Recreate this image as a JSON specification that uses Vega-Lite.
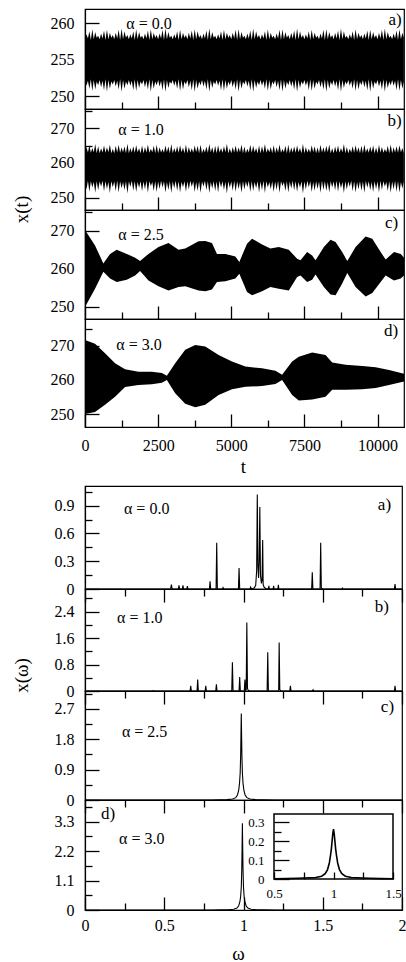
{
"$schema": "https://vega.github.io/schema/vega-lite/v6.json",
"padding": {"left": 11, "top": 8, "right": 0, "bottom": 0},
"config": {
 "view": {"stroke": "black", "strokeWidth": 1.2},
 "font": "Liberation Serif",
 "axis": {"labelFont": "Liberation Serif", "labelFontSize": 16, "labelColor": "black", "titleFont": "Liberation Serif", "titleFontSize": 19, "titleFontWeight": "normal", "titleColor": "black", "domainColor": "black", "domainWidth": 1.2, "tickColor": "black", "tickWidth": 1.3, "grid": false, "labelFlush": false, "labelOverlap": false, "labelBound": false, "zindex": 1},
 "text": {"font": "Liberation Serif", "fontSize": 16, "color": "black"}
},
"datasets": {
 "ta": [{"t":0,"lo":252.2,"hi":257.8},{"t":50,"lo":251.4,"hi":258.5},{"t":100,"lo":252.1,"hi":257.9},{"t":150,"lo":251.0,"hi":258.9},{"t":200,"lo":252.3,"hi":257.7},{"t":250,"lo":250.7,"hi":259.2},{"t":300,"lo":252.2,"hi":257.8},{"t":350,"lo":250.9,"hi":258.8},{"t":400,"lo":252.0,"hi":258.0},{"t":450,"lo":251.5,"hi":258.3},
  {"t":500,"lo":252.2,"hi":257.8},{"t":550,"lo":251.2,"hi":258.6},{"t":600,"lo":252.1,"hi":257.9},{"t":650,"lo":250.8,"hi":259.0},{"t":700,"lo":252.3,"hi":257.7},{"t":750,"lo":250.6,"hi":259.1},{"t":800,"lo":252.2,"hi":257.8},{"t":850,"lo":251.0,"hi":258.7},{"t":900,"lo":252.0,"hi":258.0},{"t":950,"lo":251.6,"hi":258.4},
  {"t":1000,"lo":252.2,"hi":257.8},{"t":1050,"lo":251.3,"hi":258.7},{"t":1100,"lo":252.1,"hi":257.9},{"t":1150,"lo":250.9,"hi":259.1},{"t":1200,"lo":252.3,"hi":257.7},{"t":1250,"lo":250.6,"hi":259.3},{"t":1300,"lo":252.2,"hi":257.8},{"t":1350,"lo":251.0,"hi":258.9},{"t":1400,"lo":252.0,"hi":258.0},{"t":1450,"lo":251.5,"hi":258.4},
  {"t":1500,"lo":252.2,"hi":257.8},{"t":1550,"lo":251.4,"hi":258.5},{"t":1600,"lo":252.1,"hi":257.9},{"t":1650,"lo":250.8,"hi":258.9},{"t":1700,"lo":252.3,"hi":257.7},{"t":1750,"lo":250.7,"hi":259.2},{"t":1800,"lo":252.2,"hi":257.8},{"t":1850,"lo":251.1,"hi":258.8},{"t":1900,"lo":252.0,"hi":258.0},{"t":1950,"lo":251.6,"hi":258.3},
  {"t":2000,"lo":252.2,"hi":257.8},{"t":2050,"lo":251.2,"hi":258.6},{"t":2100,"lo":252.1,"hi":257.9},{"t":2150,"lo":250.9,"hi":259.0},{"t":2200,"lo":252.3,"hi":257.7},{"t":2250,"lo":250.6,"hi":259.2},{"t":2300,"lo":252.2,"hi":257.8},{"t":2350,"lo":251.0,"hi":258.7},{"t":2400,"lo":252.0,"hi":258.0},{"t":2450,"lo":251.5,"hi":258.4},
  {"t":2500,"lo":252.2,"hi":257.8},{"t":2550,"lo":251.3,"hi":258.6},{"t":2600,"lo":252.1,"hi":257.9},{"t":2650,"lo":250.8,"hi":259.1},{"t":2700,"lo":252.3,"hi":257.7},{"t":2750,"lo":250.6,"hi":259.3},{"t":2800,"lo":252.2,"hi":257.8},{"t":2850,"lo":251.1,"hi":258.8},{"t":2900,"lo":252.0,"hi":258.0},{"t":2950,"lo":251.7,"hi":258.3},
  {"t":3000,"lo":252.2,"hi":257.8},{"t":3050,"lo":251.4,"hi":258.5},{"t":3100,"lo":252.1,"hi":257.9},{"t":3150,"lo":251.0,"hi":258.9},{"t":3200,"lo":252.3,"hi":257.7},{"t":3250,"lo":250.7,"hi":259.1},{"t":3300,"lo":252.2,"hi":257.8},{"t":3350,"lo":250.9,"hi":258.7},{"t":3400,"lo":252.0,"hi":258.0},{"t":3450,"lo":251.6,"hi":258.4},
  {"t":3500,"lo":252.2,"hi":257.8},{"t":3550,"lo":251.2,"hi":258.7},{"t":3600,"lo":252.1,"hi":257.9},{"t":3650,"lo":250.8,"hi":259.0},{"t":3700,"lo":252.3,"hi":257.7},{"t":3750,"lo":250.6,"hi":259.2},{"t":3800,"lo":252.2,"hi":257.8},{"t":3850,"lo":251.0,"hi":258.9},{"t":3900,"lo":252.0,"hi":258.0},{"t":3950,"lo":251.5,"hi":258.4},
  {"t":4000,"lo":252.2,"hi":257.8},{"t":4050,"lo":251.3,"hi":258.6},{"t":4100,"lo":252.1,"hi":257.9},{"t":4150,"lo":250.9,"hi":259.0},{"t":4200,"lo":252.3,"hi":257.7},{"t":4250,"lo":250.6,"hi":259.3},{"t":4300,"lo":252.2,"hi":257.8},{"t":4350,"lo":251.1,"hi":258.8},{"t":4400,"lo":252.0,"hi":258.0},{"t":4450,"lo":251.6,"hi":258.3},
  {"t":4500,"lo":252.2,"hi":257.8},{"t":4550,"lo":251.4,"hi":258.5},{"t":4600,"lo":252.1,"hi":257.9},{"t":4650,"lo":250.8,"hi":258.9},{"t":4700,"lo":252.3,"hi":257.7},{"t":4750,"lo":250.7,"hi":259.1},{"t":4800,"lo":252.2,"hi":257.8},{"t":4850,"lo":251.0,"hi":258.7},{"t":4900,"lo":252.0,"hi":258.0},{"t":4950,"lo":251.5,"hi":258.4},
  {"t":5000,"lo":252.2,"hi":257.8},{"t":5050,"lo":251.2,"hi":258.7},{"t":5100,"lo":252.1,"hi":257.9},{"t":5150,"lo":250.9,"hi":259.1},{"t":5200,"lo":252.3,"hi":257.7},{"t":5250,"lo":250.6,"hi":259.2},{"t":5300,"lo":252.2,"hi":257.8},{"t":5350,"lo":251.0,"hi":258.8},{"t":5400,"lo":252.0,"hi":258.0},{"t":5450,"lo":251.6,"hi":258.3},
  {"t":5500,"lo":252.2,"hi":257.8},{"t":5550,"lo":251.3,"hi":258.6},{"t":5600,"lo":252.1,"hi":257.9},{"t":5650,"lo":250.8,"hi":259.0},{"t":5700,"lo":252.3,"hi":257.7},{"t":5750,"lo":250.6,"hi":259.3},{"t":5800,"lo":252.2,"hi":257.8},{"t":5850,"lo":251.1,"hi":258.9},{"t":5900,"lo":252.0,"hi":258.0},{"t":5950,"lo":251.5,"hi":258.4},
  {"t":6000,"lo":252.2,"hi":257.8},{"t":6050,"lo":251.4,"hi":258.5},{"t":6100,"lo":252.1,"hi":257.9},{"t":6150,"lo":251.0,"hi":258.9},{"t":6200,"lo":252.3,"hi":257.7},{"t":6250,"lo":250.7,"hi":259.2},{"t":6300,"lo":252.2,"hi":257.8},{"t":6350,"lo":250.9,"hi":258.7},{"t":6400,"lo":252.0,"hi":258.0},{"t":6450,"lo":251.6,"hi":258.3},
  {"t":6500,"lo":252.2,"hi":257.8},{"t":6550,"lo":251.2,"hi":258.6},{"t":6600,"lo":252.1,"hi":257.9},{"t":6650,"lo":250.8,"hi":259.1},{"t":6700,"lo":252.3,"hi":257.7},{"t":6750,"lo":250.6,"hi":259.2},{"t":6800,"lo":252.2,"hi":257.8},{"t":6850,"lo":251.0,"hi":258.8},{"t":6900,"lo":252.0,"hi":258.0},{"t":6950,"lo":251.5,"hi":258.4},
  {"t":7000,"lo":252.2,"hi":257.8},{"t":7050,"lo":251.3,"hi":258.7},{"t":7100,"lo":252.1,"hi":257.9},{"t":7150,"lo":250.9,"hi":259.0},{"t":7200,"lo":252.3,"hi":257.7},{"t":7250,"lo":250.6,"hi":259.3},{"t":7300,"lo":252.2,"hi":257.8},{"t":7350,"lo":251.1,"hi":258.9},{"t":7400,"lo":252.0,"hi":258.0},{"t":7450,"lo":251.6,"hi":258.4},
  {"t":7500,"lo":252.2,"hi":257.8},{"t":7550,"lo":251.4,"hi":258.5},{"t":7600,"lo":252.1,"hi":257.9},{"t":7650,"lo":250.8,"hi":258.9},{"t":7700,"lo":252.3,"hi":257.7},{"t":7750,"lo":250.7,"hi":259.1},{"t":7800,"lo":252.2,"hi":257.8},{"t":7850,"lo":251.0,"hi":258.7},{"t":7900,"lo":252.0,"hi":258.0},{"t":7950,"lo":251.6,"hi":258.3},
  {"t":8000,"lo":252.2,"hi":257.8},{"t":8050,"lo":251.2,"hi":258.6},{"t":8100,"lo":252.1,"hi":257.9},{"t":8150,"lo":250.9,"hi":259.1},{"t":8200,"lo":252.3,"hi":257.7},{"t":8250,"lo":250.6,"hi":259.2},{"t":8300,"lo":252.2,"hi":257.8},{"t":8350,"lo":251.0,"hi":258.8},{"t":8400,"lo":252.0,"hi":258.0},{"t":8450,"lo":251.5,"hi":258.4},
  {"t":8500,"lo":252.2,"hi":257.8},{"t":8550,"lo":251.3,"hi":258.7},{"t":8600,"lo":252.1,"hi":257.9},{"t":8650,"lo":250.8,"hi":259.0},{"t":8700,"lo":252.3,"hi":257.7},{"t":8750,"lo":250.6,"hi":259.3},{"t":8800,"lo":252.2,"hi":257.8},{"t":8850,"lo":251.1,"hi":258.9},{"t":8900,"lo":252.0,"hi":258.0},{"t":8950,"lo":251.6,"hi":258.3},
  {"t":9000,"lo":252.2,"hi":257.8},{"t":9050,"lo":251.4,"hi":258.5},{"t":9100,"lo":252.1,"hi":257.9},{"t":9150,"lo":251.0,"hi":258.9},{"t":9200,"lo":252.3,"hi":257.7},{"t":9250,"lo":250.7,"hi":259.2},{"t":9300,"lo":252.2,"hi":257.8},{"t":9350,"lo":250.9,"hi":258.7},{"t":9400,"lo":252.0,"hi":258.0},{"t":9450,"lo":251.5,"hi":258.4},
  {"t":9500,"lo":252.2,"hi":257.8},{"t":9550,"lo":251.2,"hi":258.6},{"t":9600,"lo":252.1,"hi":257.9},{"t":9650,"lo":250.8,"hi":259.0},{"t":9700,"lo":252.3,"hi":257.7},{"t":9750,"lo":250.6,"hi":259.1},{"t":9800,"lo":252.2,"hi":257.8},{"t":9850,"lo":251.0,"hi":258.8},{"t":9900,"lo":252.0,"hi":258.0},{"t":9950,"lo":251.6,"hi":258.4},
  {"t":10000,"lo":252.2,"hi":257.8},{"t":10050,"lo":251.3,"hi":258.7},{"t":10100,"lo":252.1,"hi":257.9},{"t":10150,"lo":250.9,"hi":259.1},{"t":10200,"lo":252.3,"hi":257.7},{"t":10250,"lo":250.6,"hi":259.3},{"t":10300,"lo":252.2,"hi":257.8},{"t":10350,"lo":251.1,"hi":258.8},{"t":10400,"lo":252.0,"hi":258.0},{"t":10450,"lo":251.5,"hi":258.3},
  {"t":10500,"lo":252.2,"hi":257.8},{"t":10550,"lo":251.4,"hi":258.6},{"t":10600,"lo":252.1,"hi":257.9},{"t":10650,"lo":250.8,"hi":259.0},{"t":10700,"lo":252.3,"hi":257.7},{"t":10750,"lo":250.7,"hi":259.2},{"t":10800,"lo":252.2,"hi":257.8},{"t":10850,"lo":251.0,"hi":258.7},{"t":10900,"lo":252.0,"hi":258.0}],
 "tb": [{"t":0,"lo":254.7,"hi":262.8},{"t":50,"lo":252.4,"hi":264.6},{"t":100,"lo":254.9,"hi":263.0},{"t":150,"lo":251.8,"hi":265.1},{"t":200,"lo":254.8,"hi":262.9},{"t":250,"lo":253.0,"hi":264.3},{"t":300,"lo":254.6,"hi":263.1},{"t":350,"lo":251.5,"hi":265.4},{"t":400,"lo":254.8,"hi":262.8},{"t":450,"lo":252.2,"hi":264.8},
  {"t":500,"lo":254.7,"hi":262.8},{"t":550,"lo":253.3,"hi":264.2},{"t":600,"lo":254.9,"hi":263.0},{"t":650,"lo":251.9,"hi":265.0},{"t":700,"lo":254.8,"hi":262.9},{"t":750,"lo":252.6,"hi":264.5},{"t":800,"lo":254.6,"hi":263.1},{"t":850,"lo":251.4,"hi":265.3},{"t":900,"lo":254.8,"hi":262.8},{"t":950,"lo":253.1,"hi":264.1},
  {"t":1000,"lo":254.7,"hi":262.8},{"t":1050,"lo":252.0,"hi":264.9},{"t":1100,"lo":254.9,"hi":263.0},{"t":1150,"lo":251.6,"hi":265.2},{"t":1200,"lo":254.8,"hi":262.9},{"t":1250,"lo":252.8,"hi":264.4},{"t":1300,"lo":254.6,"hi":263.1},{"t":1350,"lo":252.3,"hi":264.7},{"t":1400,"lo":254.8,"hi":262.8},{"t":1450,"lo":251.3,"hi":265.5},
  {"t":1500,"lo":254.7,"hi":262.8},{"t":1550,"lo":253.2,"hi":264.3},{"t":1600,"lo":254.9,"hi":263.0},{"t":1650,"lo":252.1,"hi":264.8},{"t":1700,"lo":254.8,"hi":262.9},{"t":1750,"lo":251.7,"hi":265.1},{"t":1800,"lo":254.6,"hi":263.1},{"t":1850,"lo":252.9,"hi":264.2},{"t":1900,"lo":254.8,"hi":262.8},{"t":1950,"lo":251.9,"hi":265.0},
  {"t":2000,"lo":254.7,"hi":262.8},{"t":2050,"lo":252.5,"hi":264.6},{"t":2100,"lo":254.9,"hi":263.0},{"t":2150,"lo":251.5,"hi":265.3},{"t":2200,"lo":254.8,"hi":262.9},{"t":2250,"lo":253.4,"hi":264.1},{"t":2300,"lo":254.6,"hi":263.1},{"t":2350,"lo":252.0,"hi":264.9},{"t":2400,"lo":254.8,"hi":262.8},{"t":2450,"lo":251.7,"hi":265.2},
  {"t":2500,"lo":254.7,"hi":262.8},{"t":2550,"lo":252.6,"hi":264.5},{"t":2600,"lo":254.9,"hi":263.0},{"t":2650,"lo":253.0,"hi":264.0},{"t":2700,"lo":254.8,"hi":262.9},{"t":2750,"lo":251.6,"hi":265.0},{"t":2800,"lo":254.6,"hi":263.1},{"t":2850,"lo":252.3,"hi":264.7},{"t":2900,"lo":254.8,"hi":262.8},{"t":2950,"lo":251.4,"hi":265.4},
  {"t":3000,"lo":254.7,"hi":262.8},{"t":3050,"lo":252.8,"hi":264.3},{"t":3100,"lo":254.9,"hi":263.0},{"t":3150,"lo":252.1,"hi":264.8},{"t":3200,"lo":254.8,"hi":262.9},{"t":3250,"lo":251.6,"hi":265.1},{"t":3300,"lo":254.6,"hi":263.1},{"t":3350,"lo":253.1,"hi":264.4},{"t":3400,"lo":254.8,"hi":262.8},{"t":3450,"lo":251.8,"hi":265.3},
  {"t":3500,"lo":254.7,"hi":262.8},{"t":3550,"lo":252.4,"hi":264.6},{"t":3600,"lo":254.9,"hi":263.0},{"t":3650,"lo":253.2,"hi":264.2},{"t":3700,"lo":254.8,"hi":262.9},{"t":3750,"lo":251.7,"hi":265.0},{"t":3800,"lo":254.6,"hi":263.1},{"t":3850,"lo":252.0,"hi":264.9},{"t":3900,"lo":254.8,"hi":262.8},{"t":3950,"lo":251.5,"hi":265.2},
  {"t":4000,"lo":254.7,"hi":262.8},{"t":4050,"lo":253.3,"hi":264.1},{"t":4100,"lo":254.9,"hi":263.0},{"t":4150,"lo":252.2,"hi":264.7},{"t":4200,"lo":254.8,"hi":262.9},{"t":4250,"lo":251.4,"hi":265.4},{"t":4300,"lo":254.6,"hi":263.1},{"t":4350,"lo":252.7,"hi":264.5},{"t":4400,"lo":254.8,"hi":262.8},{"t":4450,"lo":252.0,"hi":264.9},
  {"t":4500,"lo":254.7,"hi":262.8},{"t":4550,"lo":251.6,"hi":265.1},{"t":4600,"lo":254.9,"hi":263.0},{"t":4650,"lo":253.0,"hi":264.3},{"t":4700,"lo":254.8,"hi":262.9},{"t":4750,"lo":252.3,"hi":264.8},{"t":4800,"lo":254.6,"hi":263.1},{"t":4850,"lo":251.3,"hi":265.5},{"t":4900,"lo":254.8,"hi":262.8},{"t":4950,"lo":252.9,"hi":264.2},
  {"t":5000,"lo":254.7,"hi":262.8},{"t":5050,"lo":252.1,"hi":264.6},{"t":5100,"lo":254.9,"hi":263.0},{"t":5150,"lo":251.8,"hi":265.0},{"t":5200,"lo":254.8,"hi":262.9},{"t":5250,"lo":252.6,"hi":264.4},{"t":5300,"lo":254.6,"hi":263.1},{"t":5350,"lo":251.5,"hi":265.3},{"t":5400,"lo":254.8,"hi":262.8},{"t":5450,"lo":252.4,"hi":264.7},
  {"t":5500,"lo":254.7,"hi":262.8},{"t":5550,"lo":253.1,"hi":264.1},{"t":5600,"lo":254.9,"hi":263.0},{"t":5650,"lo":251.7,"hi":265.2},{"t":5700,"lo":254.8,"hi":262.9},{"t":5750,"lo":252.0,"hi":264.9},{"t":5800,"lo":254.6,"hi":263.1},{"t":5850,"lo":252.8,"hi":264.3},{"t":5900,"lo":254.8,"hi":262.8},{"t":5950,"lo":251.6,"hi":265.0},
  {"t":6000,"lo":254.7,"hi":262.8},{"t":6050,"lo":252.2,"hi":264.8},{"t":6100,"lo":254.9,"hi":263.0},{"t":6150,"lo":251.4,"hi":265.4},{"t":6200,"lo":254.8,"hi":262.9},{"t":6250,"lo":253.0,"hi":264.2},{"t":6300,"lo":254.6,"hi":263.1},{"t":6350,"lo":252.5,"hi":264.6},{"t":6400,"lo":254.8,"hi":262.8},{"t":6450,"lo":251.7,"hi":265.1},
  {"t":6500,"lo":254.7,"hi":262.8},{"t":6550,"lo":252.3,"hi":264.5},{"t":6600,"lo":254.9,"hi":263.0},{"t":6650,"lo":251.5,"hi":265.3},{"t":6700,"lo":254.8,"hi":262.9},{"t":6750,"lo":253.4,"hi":264.0},{"t":6800,"lo":254.6,"hi":263.1},{"t":6850,"lo":252.0,"hi":264.9},{"t":6900,"lo":254.8,"hi":262.8},{"t":6950,"lo":251.6,"hi":265.2},
  {"t":7000,"lo":254.7,"hi":262.8},{"t":7050,"lo":252.7,"hi":264.4},{"t":7100,"lo":254.9,"hi":263.0},{"t":7150,"lo":252.2,"hi":264.7},{"t":7200,"lo":254.8,"hi":262.9},{"t":7250,"lo":251.8,"hi":265.0},{"t":7300,"lo":254.6,"hi":263.1},{"t":7350,"lo":252.9,"hi":264.3},{"t":7400,"lo":254.8,"hi":262.8},{"t":7450,"lo":251.3,"hi":265.5},
  {"t":7500,"lo":254.7,"hi":262.8},{"t":7550,"lo":252.4,"hi":264.6},{"t":7600,"lo":254.9,"hi":263.0},{"t":7650,"lo":253.1,"hi":264.1},{"t":7700,"lo":254.8,"hi":262.9},{"t":7750,"lo":251.7,"hi":265.1},{"t":7800,"lo":254.6,"hi":263.1},{"t":7850,"lo":252.1,"hi":264.8},{"t":7900,"lo":254.8,"hi":262.8},{"t":7950,"lo":252.6,"hi":264.4},
  {"t":8000,"lo":254.7,"hi":262.8},{"t":8050,"lo":251.5,"hi":265.2},{"t":8100,"lo":254.9,"hi":263.0},{"t":8150,"lo":252.3,"hi":264.5},{"t":8200,"lo":254.8,"hi":262.9},{"t":8250,"lo":252.0,"hi":264.9},{"t":8300,"lo":254.6,"hi":263.1},{"t":8350,"lo":251.6,"hi":265.3},{"t":8400,"lo":254.8,"hi":262.8},{"t":8450,"lo":253.0,"hi":264.2},
  {"t":8500,"lo":254.7,"hi":262.8},{"t":8550,"lo":252.2,"hi":264.7},{"t":8600,"lo":254.9,"hi":263.0},{"t":8650,"lo":251.8,"hi":265.0},{"t":8700,"lo":254.8,"hi":262.9},{"t":8750,"lo":252.8,"hi":264.3},{"t":8800,"lo":254.6,"hi":263.1},{"t":8850,"lo":251.4,"hi":265.4},{"t":8900,"lo":254.8,"hi":262.8},{"t":8950,"lo":252.4,"hi":264.6},
  {"t":9000,"lo":254.7,"hi":262.8},{"t":9050,"lo":253.2,"hi":264.1},{"t":9100,"lo":254.9,"hi":263.0},{"t":9150,"lo":251.9,"hi":264.8},{"t":9200,"lo":254.8,"hi":262.9},{"t":9250,"lo":251.6,"hi":265.1},{"t":9300,"lo":254.6,"hi":263.1},{"t":9350,"lo":252.5,"hi":264.5},{"t":9400,"lo":254.8,"hi":262.8},{"t":9450,"lo":252.1,"hi":264.9},
  {"t":9500,"lo":254.7,"hi":262.8},{"t":9550,"lo":251.5,"hi":265.3},{"t":9600,"lo":254.9,"hi":263.0},{"t":9650,"lo":252.9,"hi":264.2},{"t":9700,"lo":254.8,"hi":262.9},{"t":9750,"lo":252.2,"hi":264.7},{"t":9800,"lo":254.6,"hi":263.1},{"t":9850,"lo":251.7,"hi":265.0},{"t":9900,"lo":254.8,"hi":262.8},{"t":9950,"lo":252.6,"hi":264.4},
  {"t":10000,"lo":254.7,"hi":262.8},{"t":10050,"lo":251.6,"hi":265.2},{"t":10100,"lo":254.9,"hi":263.0},{"t":10150,"lo":252.3,"hi":264.6},{"t":10200,"lo":254.8,"hi":262.9},{"t":10250,"lo":253.3,"hi":264.0},{"t":10300,"lo":254.6,"hi":263.1},{"t":10350,"lo":252.0,"hi":264.9},{"t":10400,"lo":254.8,"hi":262.8},{"t":10450,"lo":251.5,"hi":265.3},
  {"t":10500,"lo":254.7,"hi":262.8},{"t":10550,"lo":252.4,"hi":264.5},{"t":10600,"lo":254.9,"hi":263.0},{"t":10650,"lo":251.8,"hi":264.8},{"t":10700,"lo":254.8,"hi":262.9},{"t":10750,"lo":251.6,"hi":265.1},{"t":10800,"lo":254.6,"hi":263.1},{"t":10850,"lo":252.7,"hi":264.3},{"t":10900,"lo":254.8,"hi":262.8}],
 "tc": [{"t":0,"lo":249.9,"hi":270.2},{"t":343,"lo":254.7,"hi":266.1},{"t":628,"lo":259.2,"hi":261.4},{"t":857,"lo":257.4,"hi":263.9},{"t":1085,"lo":256.5,"hi":265.0},{"t":1428,"lo":257.1,"hi":263.9},{"t":1713,"lo":258.2,"hi":262.9},{"t":1884,"lo":259.4,"hi":262.0},{"t":2170,"lo":256.9,"hi":263.9},{"t":2512,"lo":255.4,"hi":265.7},{"t":2855,"lo":254.3,"hi":266.8},{"t":3198,"lo":255.2,"hi":265.0},{"t":3426,"lo":255.4,"hi":265.3},{"t":3883,"lo":254.3,"hi":267.2},{"t":4111,"lo":254.1,"hi":267.3},{"t":4340,"lo":254.5,"hi":266.8},{"t":4511,"lo":256.5,"hi":263.9},{"t":4797,"lo":256.7,"hi":263.9},{"t":5140,"lo":257.4,"hi":263.2},{"t":5276,"lo":258.7,"hi":261.8},{"t":5539,"lo":253.9,"hi":266.6},{"t":5710,"lo":253.0,"hi":267.9},{"t":6053,"lo":254.1,"hi":266.4},{"t":6338,"lo":255.2,"hi":265.3},{"t":6624,"lo":254.7,"hi":265.7},{"t":6966,"lo":254.3,"hi":265.0},{"t":7252,"lo":257.8,"hi":262.6},{"t":7366,"lo":258.2,"hi":262.2},{"t":7594,"lo":256.5,"hi":264.4},{"t":7766,"lo":257.1,"hi":263.5},{"t":7880,"lo":258.5,"hi":262.2},{"t":8165,"lo":255.2,"hi":265.7},{"t":8394,"lo":253.2,"hi":267.6},{"t":8565,"lo":253.0,"hi":267.0},{"t":8793,"lo":256.1,"hi":264.4},{"t":8965,"lo":258.9,"hi":262.0},{"t":9250,"lo":255.2,"hi":265.7},{"t":9593,"lo":252.7,"hi":268.5},{"t":9821,"lo":253.6,"hi":267.9},{"t":10107,"lo":256.5,"hi":264.4},{"t":10278,"lo":258.2,"hi":262.4},{"t":10564,"lo":256.9,"hi":264.4},{"t":10792,"lo":257.4,"hi":263.9},{"t":10905,"lo":258.2,"hi":262.9}],
 "td": [{"t":0,"lo":250.0,"hi":271.7},{"t":343,"lo":250.6,"hi":270.6},{"t":685,"lo":252.7,"hi":267.8},{"t":1028,"lo":255.1,"hi":264.9},{"t":1370,"lo":257.9,"hi":263.1},{"t":1827,"lo":258.5,"hi":262.4},{"t":2284,"lo":258.7,"hi":262.4},{"t":2627,"lo":259.2,"hi":262.0},{"t":2798,"lo":260.0,"hi":261.2},{"t":3083,"lo":256.1,"hi":264.9},{"t":3426,"lo":253.0,"hi":268.8},{"t":3769,"lo":252.0,"hi":270.2},{"t":4111,"lo":252.7,"hi":269.8},{"t":4568,"lo":255.6,"hi":267.3},{"t":5025,"lo":257.3,"hi":265.4},{"t":5482,"lo":258.0,"hi":263.9},{"t":6053,"lo":258.2,"hi":263.4},{"t":6509,"lo":258.8,"hi":262.7},{"t":6738,"lo":260.0,"hi":261.5},{"t":7081,"lo":255.6,"hi":265.4},{"t":7309,"lo":254.0,"hi":266.8},{"t":7766,"lo":254.3,"hi":268.0},{"t":8222,"lo":255.1,"hi":267.3},{"t":8451,"lo":257.1,"hi":265.1},{"t":8907,"lo":257.1,"hi":264.4},{"t":9479,"lo":257.3,"hi":264.1},{"t":9936,"lo":257.6,"hi":263.7},{"t":10393,"lo":258.5,"hi":262.9},{"t":10905,"lo":259.5,"hi":261.8}],
 "sa": [{"w":0,"a":0},{"w":0.54,"a":0},{"w":0.545,"a":0.047},{"w":0.55,"a":0},{"w":0.589,"a":0},{"w":0.593,"a":0.04},{"w":0.597,"a":0},{"w":0.614,"a":0},{"w":0.618,"a":0.04},{"w":0.622,"a":0},{"w":0.642,"a":0},{"w":0.646,"a":0.03},{"w":0.65,"a":0},{"w":0.785,"a":0},{"w":0.789,"a":0.083},{"w":0.793,"a":0},{"w":0.827,"a":0},{"w":0.831,"a":0.5},{"w":0.835,"a":0},{"w":0.867,"a":0},{"w":0.871,"a":0.015},{"w":0.875,"a":0},{"w":0.968,"a":0},{"w":0.972,"a":0.227},{"w":0.976,"a":0},{"w":1.041,"a":0},{"w":1.045,"a":0.02},{"w":1.049,"a":0.003},{"w":1.068,"a":0.01},{"w":1.077,"a":0.04},{"w":1.083,"a":0.2},{"w":1.087,"a":1.02},{"w":1.091,"a":0.25},{"w":1.095,"a":0.12},{"w":1.099,"a":0.3},{"w":1.103,"a":0.885},{"w":1.107,"a":0.15},{"w":1.113,"a":0.06},{"w":1.117,"a":0.1},{"w":1.121,"a":0.53},{"w":1.124,"a":0.05},{"w":1.13,"a":0.02},{"w":1.14,"a":0.005},{"w":1.157,"a":0},{"w":1.16,"a":0.035},{"w":1.163,"a":0},{"w":1.187,"a":0},{"w":1.19,"a":0.035},{"w":1.193,"a":0},{"w":1.217,"a":0},{"w":1.22,"a":0.045},{"w":1.223,"a":0},{"w":1.43,"a":0},{"w":1.434,"a":0.18},{"w":1.438,"a":0},{"w":1.483,"a":0},{"w":1.487,"a":0.5},{"w":1.491,"a":0.01},{"w":1.5,"a":0},{"w":1.62,"a":0},{"w":1.624,"a":0.01},{"w":1.628,"a":0},{"w":1.952,"a":0},{"w":1.956,"a":0.054},{"w":1.96,"a":0},{"w":2,"a":0}],
 "sb": [{"w":0,"a":0},{"w":0.428,"a":0},{"w":0.43,"a":0.01},{"w":0.432,"a":0},{"w":0.663,"a":0},{"w":0.667,"a":0.16},{"w":0.671,"a":0},{"w":0.707,"a":0},{"w":0.711,"a":0.35},{"w":0.715,"a":0},{"w":0.758,"a":0},{"w":0.762,"a":0.16},{"w":0.766,"a":0},{"w":0.825,"a":0},{"w":0.829,"a":0.2},{"w":0.833,"a":0},{"w":0.92,"a":0},{"w":0.926,"a":0.02},{"w":0.93,"a":0.87},{"w":0.934,"a":0.02},{"w":0.94,"a":0},{"w":0.972,"a":0},{"w":0.976,"a":0.42},{"w":0.98,"a":0},{"w":1.005,"a":0},{"w":1.009,"a":0.35},{"w":1.013,"a":0.02},{"w":1.017,"a":0.03},{"w":1.021,"a":2.07},{"w":1.025,"a":0.08},{"w":1.03,"a":0.02},{"w":1.04,"a":0},{"w":1.149,"a":0},{"w":1.153,"a":1.17},{"w":1.157,"a":0},{"w":1.218,"a":0},{"w":1.222,"a":0.03},{"w":1.225,"a":1.47},{"w":1.229,"a":0.04},{"w":1.235,"a":0},{"w":1.292,"a":0},{"w":1.296,"a":0.16},{"w":1.3,"a":0},{"w":1.435,"a":0},{"w":1.439,"a":0.04},{"w":1.443,"a":0},{"w":1.952,"a":0},{"w":1.956,"a":0.16},{"w":1.96,"a":0},{"w":2,"a":0}],
 "sc": [{"w":0,"a":0},{"w":0.8,"a":0},{"w":0.846,"a":0.003},{"w":0.896,"a":0.01},{"w":0.931,"a":0.03},{"w":0.951,"a":0.07},{"w":0.962,"a":0.15},{"w":0.97,"a":0.3},{"w":0.975,"a":0.5},{"w":0.979,"a":0.8},{"w":0.982,"a":1.3},{"w":0.984,"a":1.9},{"w":0.986,"a":2.56},{"w":0.988,"a":1.9},{"w":0.99,"a":1.3},{"w":0.993,"a":0.8},{"w":0.997,"a":0.5},{"w":1.002,"a":0.3},{"w":1.01,"a":0.15},{"w":1.021,"a":0.07},{"w":1.041,"a":0.03},{"w":1.076,"a":0.01},{"w":1.126,"a":0.003},{"w":1.2,"a":0},{"w":2,"a":0}],
 "sd": [{"w":0,"a":0},{"w":0.8,"a":0},{"w":0.853,"a":0.003},{"w":0.903,"a":0.01},{"w":0.938,"a":0.03},{"w":0.958,"a":0.07},{"w":0.969,"a":0.15},{"w":0.977,"a":0.3},{"w":0.982,"a":0.5},{"w":0.986,"a":0.85},{"w":0.989,"a":1.5},{"w":0.991,"a":2.3},{"w":0.993,"a":3.24},{"w":0.995,"a":2.3},{"w":0.997,"a":1.5},{"w":1.0,"a":0.85},{"w":1.004,"a":0.5},{"w":1.009,"a":0.3},{"w":1.017,"a":0.15},{"w":1.028,"a":0.07},{"w":1.048,"a":0.03},{"w":1.083,"a":0.01},{"w":1.133,"a":0.003},{"w":1.2,"a":0},{"w":2,"a":0}],
 "ins": [{"w":0.5,"a":0.001},{"w":0.6,"a":0.002},{"w":0.7,"a":0.004},{"w":0.75,"a":0.005},{"w":0.85,"a":0.008},{"w":0.9,"a":0.015},{"w":0.93,"a":0.028},{"w":0.95,"a":0.05},{"w":0.965,"a":0.085},{"w":0.976,"a":0.13},{"w":0.982,"a":0.16},{"w":0.988,"a":0.2},{"w":0.994,"a":0.24},{"w":1.0,"a":0.265},{"w":1.006,"a":0.24},{"w":1.012,"a":0.2},{"w":1.018,"a":0.16},{"w":1.024,"a":0.13},{"w":1.035,"a":0.085},{"w":1.05,"a":0.05},{"w":1.07,"a":0.028},{"w":1.1,"a":0.015},{"w":1.15,"a":0.008},{"w":1.25,"a":0.005},{"w":1.3,"a":0.004},{"w":1.4,"a":0.002},{"w":1.5,"a":0.001}]
},
"spacing": 6,
"vconcat": [
 {"spacing": 0, "bounds": "flush", "vconcat": [
  {"width": 319, "height": 100, "resolve": {"axis": {"x": "independent", "y": "independent"}}, "layer": [
   {"data": {"name": "ta"}, "mark": {"type": "area", "color": "black"},
    "encoding": {
     "x": {"field": "t", "type": "quantitative", "scale": {"domain": [0, 10905], "nice": false, "zero": false}, "axis": {"values": [0,1250,2500,3750,5000,6250,7500,8750,10000], "labels": false, "title": null, "tickSize": {"condition": {"test": "datum.value % 2500 === 0", "value": -13}, "value": -7}}},
     "y": {"field": "hi", "type": "quantitative", "scale": {"domain": [248.22, 261.97], "nice": false, "zero": false}, "axis": {"values": [250,252.5,255,257.5,260], "format": "~g", "labelExpr": "indexof([250,255,260], datum.value) >= 0 ? datum.label : ''", "labelPadding": 25, "tickSize": {"condition": {"test": "indexof([250,255,260], datum.value) >= 0", "value": -14}, "value": -7}, "title": null}},
     "y2": {"field": "lo"}}},
   {"data": {"values": [{}]}, "mark": {"type": "text", "text": "α = 0.0", "align": "left", "baseline": "alphabetic", "fontSize": 16}, "encoding": {"x": {"datum": 1412, "type": "quantitative", "axis": null}, "y": {"datum": 259.2, "type": "quantitative", "axis": null}}},
   {"data": {"values": [{}]}, "mark": {"type": "text", "text": "a)", "align": "right", "baseline": "alphabetic", "fontSize": 17}, "encoding": {"x": {"datum": 10823, "type": "quantitative", "axis": null}, "y": {"datum": 259.77, "type": "quantitative", "axis": null}}}
  ]},
  {"width": 319, "height": 101, "resolve": {"axis": {"x": "independent", "y": "independent"}}, "layer": [
   {"data": {"name": "tb"}, "mark": {"type": "area", "color": "black"},
    "encoding": {
     "x": {"field": "t", "type": "quantitative", "scale": {"domain": [0, 10905], "nice": false, "zero": false}, "axis": {"values": [0,1250,2500,3750,5000,6250,7500,8750,10000], "labels": false, "title": null, "tickSize": {"condition": {"test": "datum.value % 2500 === 0", "value": -13}, "value": -7}}},
     "y": {"field": "hi", "type": "quantitative", "scale": {"domain": [246.57, 275.43], "nice": false, "zero": false}, "axis": {"values": [250,255,260,265,270,275], "format": "~g", "labelExpr": "indexof([250,260,270], datum.value) >= 0 ? datum.label : ''", "labelPadding": 25, "tickSize": {"condition": {"test": "indexof([250,260,270], datum.value) >= 0", "value": -14}, "value": -7}, "title": "x(t)", "titleX": -58, "titleY": 100, "titleAngle": 270, "titleAlign": "center", "titleBaseline": "alphabetic"}},
     "y2": {"field": "lo"}}},
   {"data": {"values": [{}]}, "mark": {"type": "text", "text": "α = 1.0", "align": "left", "baseline": "alphabetic", "fontSize": 16}, "encoding": {"x": {"datum": 1138, "type": "quantitative", "axis": null}, "y": {"datum": 268.1, "type": "quantitative", "axis": null}}},
   {"data": {"values": [{}]}, "mark": {"type": "text", "text": "b)", "align": "right", "baseline": "alphabetic", "fontSize": 17}, "encoding": {"x": {"datum": 10823, "type": "quantitative", "axis": null}, "y": {"datum": 270.5, "type": "quantitative", "axis": null}}}
  ]},
  {"width": 319, "height": 109, "resolve": {"axis": {"x": "independent", "y": "independent"}}, "layer": [
   {"data": {"name": "tc"}, "mark": {"type": "area", "color": "black"},
    "encoding": {
     "x": {"field": "t", "type": "quantitative", "scale": {"domain": [0, 10905], "nice": false, "zero": false}, "axis": {"values": [0,1250,2500,3750,5000,6250,7500,8750,10000], "labels": false, "title": null, "tickSize": {"condition": {"test": "datum.value % 2500 === 0", "value": -13}, "value": -7}}},
     "y": {"field": "hi", "type": "quantitative", "scale": {"domain": [246.77, 275.45], "nice": false, "zero": false}, "axis": {"values": [250,255,260,265,270,275], "format": "~g", "labelExpr": "indexof([250,260,270], datum.value) >= 0 ? datum.label : ''", "labelPadding": 25, "tickSize": {"condition": {"test": "indexof([250,260,270], datum.value) >= 0", "value": -14}, "value": -7}, "title": null}},
     "y2": {"field": "lo"}}},
   {"data": {"values": [{}]}, "mark": {"type": "text", "text": "α = 2.5", "align": "left", "baseline": "alphabetic", "fontSize": 16}, "encoding": {"x": {"datum": 1138, "type": "quantitative", "axis": null}, "y": {"datum": 267.5, "type": "quantitative", "axis": null}}},
   {"data": {"values": [{}]}, "mark": {"type": "text", "text": "c)", "align": "right", "baseline": "alphabetic", "fontSize": 17}, "encoding": {"x": {"datum": 10710, "type": "quantitative", "axis": null}, "y": {"datum": 270.8, "type": "quantitative", "axis": null}}}
  ]},
  {"width": 319, "height": 108, "resolve": {"axis": {"x": "independent", "y": "independent"}}, "layer": [
   {"data": {"name": "td"}, "mark": {"type": "area", "color": "black"},
    "encoding": {
     "x": {"field": "t", "type": "quantitative", "scale": {"domain": [0, 10905], "nice": false, "zero": false}, "axis": {"values": [0,1250,2500,3750,5000,6250,7500,8750,10000], "format": "d", "labelExpr": "datum.value % 2500 === 0 ? datum.label : ''", "labelPadding": 23, "tickSize": {"condition": {"test": "datum.value % 2500 === 0", "value": -13}, "value": -7}, "title": "t", "titleX": 158, "titleY": 45, "titleAlign": "center", "titleBaseline": "alphabetic"}},
     "y": {"field": "hi", "type": "quantitative", "scale": {"domain": [246.23, 277.81], "nice": false, "zero": false}, "axis": {"values": [250,255,260,265,270,275], "format": "~g", "labelExpr": "indexof([250,260,270], datum.value) >= 0 ? datum.label : ''", "labelPadding": 25, "tickSize": {"condition": {"test": "indexof([250,260,270], datum.value) >= 0", "value": -14}, "value": -7}, "title": null}},
     "y2": {"field": "lo"}}},
   {"data": {"values": [{}]}, "mark": {"type": "text", "text": "α = 3.0", "align": "left", "baseline": "alphabetic", "fontSize": 16}, "encoding": {"x": {"datum": 1070, "type": "quantitative", "axis": null}, "y": {"datum": 268.75, "type": "quantitative", "axis": null}}},
   {"data": {"values": [{}]}, "mark": {"type": "text", "text": "d)", "align": "right", "baseline": "alphabetic", "fontSize": 17}, "encoding": {"x": {"datum": 10710, "type": "quantitative", "axis": null}, "y": {"datum": 272.9, "type": "quantitative", "axis": null}}}
  ]}
 ]},
 {"spacing": 0, "bounds": "flush", "vconcat": [
  {"width": 317, "height": 103, "resolve": {"axis": {"x": "independent", "y": "independent"}}, "layer": [
   {"data": {"name": "sa"}, "mark": {"type": "line", "color": "black", "strokeWidth": 1.1},
    "encoding": {
     "x": {"field": "w", "type": "quantitative", "scale": {"domain": [0, 2], "nice": false, "zero": false}, "axis": {"values": [0,0.25,0.5,0.75,1,1.25,1.5,1.75,2], "labels": false, "title": null, "tickSize": {"condition": {"test": "indexof([0,0.5,1,1.5,2], datum.value) >= 0", "value": 13}, "value": 7}}},
     "y": {"field": "a", "type": "quantitative", "scale": {"domain": [0, 1.112], "nice": false, "zero": false}, "axis": {"values": [0,0.15,0.3,0.45,0.6,0.75,0.9,1.05], "format": "~g", "labelExpr": "indexof([0,0.3,0.6,0.9], datum.value) >= 0 ? datum.label : ''", "labelPadding": 25, "tickSize": {"condition": {"test": "indexof([0,0.3,0.6,0.9], datum.value) >= 0", "value": -14}, "value": -7}, "title": null}}}},
   {"data": {"values": [{}]}, "mark": {"type": "text", "text": "α = 0.0", "align": "left", "baseline": "alphabetic", "fontSize": 16}, "encoding": {"x": {"datum": 0.246, "type": "quantitative", "axis": null}, "y": {"datum": 0.807, "type": "quantitative", "axis": null}}},
   {"data": {"values": [{}]}, "mark": {"type": "text", "text": "a)", "align": "right", "baseline": "alphabetic", "fontSize": 17}, "encoding": {"x": {"datum": 1.931, "type": "quantitative", "axis": null}, "y": {"datum": 0.85, "type": "quantitative", "axis": null}}}
  ]},
  {"width": 317, "height": 102, "resolve": {"axis": {"x": "independent", "y": "independent"}}, "layer": [
   {"data": {"name": "sb"}, "mark": {"type": "line", "color": "black", "strokeWidth": 1.1},
    "encoding": {
     "x": {"field": "w", "type": "quantitative", "scale": {"domain": [0, 2], "nice": false, "zero": false}, "axis": {"values": [0,0.25,0.5,0.75,1,1.25,1.5,1.75,2], "labels": false, "title": null, "tickSize": {"condition": {"test": "indexof([0,0.5,1,1.5,2], datum.value) >= 0", "value": 13}, "value": 7}}},
     "y": {"field": "a", "type": "quantitative", "scale": {"domain": [0, 3.085], "nice": false, "zero": false}, "axis": {"values": [0,0.4,0.8,1.2,1.6,2,2.4,2.8], "format": "~g", "labelExpr": "indexof([0,0.8,1.6,2.4], datum.value) >= 0 ? datum.label : ''", "labelPadding": 25, "tickSize": {"condition": {"test": "indexof([0,0.8,1.6,2.4], datum.value) >= 0", "value": -14}, "value": -7}, "title": "x(ω)", "titleX": -58, "titleY": 86, "titleAngle": 270, "titleAlign": "center", "titleBaseline": "alphabetic"}}}},
   {"data": {"values": [{}]}, "mark": {"type": "text", "text": "α = 1.0", "align": "left", "baseline": "alphabetic", "fontSize": 16}, "encoding": {"x": {"datum": 0.202, "type": "quantitative", "axis": null}, "y": {"datum": 2.07, "type": "quantitative", "axis": null}}},
   {"data": {"values": [{}]}, "mark": {"type": "text", "text": "b)", "align": "right", "baseline": "alphabetic", "fontSize": 17}, "encoding": {"x": {"datum": 1.918, "type": "quantitative", "axis": null}, "y": {"datum": 2.4, "type": "quantitative", "axis": null}}}
  ]},
  {"width": 317, "height": 109, "resolve": {"axis": {"x": "independent", "y": "independent"}}, "layer": [
   {"data": {"name": "sc"}, "mark": {"type": "line", "color": "black", "strokeWidth": 1.1},
    "encoding": {
     "x": {"field": "w", "type": "quantitative", "scale": {"domain": [0, 2], "nice": false, "zero": false}, "axis": {"values": [0,0.25,0.5,0.75,1,1.25,1.5,1.75,2], "labels": false, "title": null, "tickSize": {"condition": {"test": "indexof([0,0.5,1,1.5,2], datum.value) >= 0", "value": 13}, "value": 7}}},
     "y": {"field": "a", "type": "quantitative", "scale": {"domain": [0, 3.225], "nice": false, "zero": false}, "axis": {"values": [0,0.45,0.9,1.35,1.8,2.25,2.7,3.15], "format": "~g", "labelExpr": "indexof([0,0.9,1.8,2.7], datum.value) >= 0 ? datum.label : ''", "labelPadding": 25, "tickSize": {"condition": {"test": "indexof([0,0.9,1.8,2.7], datum.value) >= 0", "value": -14}, "value": -7}, "title": null}}}},
   {"data": {"values": [{}]}, "mark": {"type": "text", "text": "α = 2.5", "align": "left", "baseline": "alphabetic", "fontSize": 16}, "encoding": {"x": {"datum": 0.233, "type": "quantitative", "axis": null}, "y": {"datum": 1.87, "type": "quantitative", "axis": null}}},
   {"data": {"values": [{}]}, "mark": {"type": "text", "text": "c)", "align": "right", "baseline": "alphabetic", "fontSize": 17}, "encoding": {"x": {"datum": 1.95, "type": "quantitative", "axis": null}, "y": {"datum": 2.61, "type": "quantitative", "axis": null}}}
  ]},
  {"width": 317, "height": 110,
   "resolve": {"scale": {"x": "independent", "y": "independent"}, "axis": {"x": "independent", "y": "independent"}},
   "layer": [
   {"resolve": {"axis": {"x": "independent", "y": "independent"}}, "layer": [
    {"data": {"name": "sd"}, "mark": {"type": "line", "color": "black", "strokeWidth": 1.1},
     "encoding": {
      "x": {"field": "w", "type": "quantitative", "scale": {"domain": [0, 2], "nice": false, "zero": false}, "axis": {"values": [0,0.25,0.5,0.75,1,1.25,1.5,1.75,2], "format": "~g", "labelExpr": "indexof([0,0.5,1,1.5,2], datum.value) >= 0 ? datum.label : ''", "labelPadding": 20, "tickSize": {"condition": {"test": "indexof([0,0.5,1,1.5,2], datum.value) >= 0", "value": -13}, "value": -7}, "title": "ω", "titleX": 153, "titleY": 49, "titleAlign": "center", "titleBaseline": "alphabetic"}},
      "y": {"field": "a", "type": "quantitative", "scale": {"domain": [0, 4.11], "nice": false, "zero": false}, "axis": {"values": [0,0.55,1.1,1.65,2.2,2.75,3.3,3.85], "format": "~g", "labelExpr": "indexof([0,1.1,2.2,3.3], datum.value) >= 0 ? datum.label : ''", "labelPadding": 25, "tickSize": {"condition": {"test": "indexof([0,1.1,2.2,3.3], datum.value) >= 0", "value": -14}, "value": -7}, "title": null}}}},
    {"data": {"values": [{}]}, "mark": {"type": "text", "text": "α = 3.0", "align": "left", "baseline": "alphabetic", "fontSize": 16}, "encoding": {"x": {"datum": 0.215, "type": "quantitative", "axis": null}, "y": {"datum": 2.48, "type": "quantitative", "axis": null}}},
    {"data": {"values": [{}]}, "mark": {"type": "text", "text": "d)", "align": "left", "baseline": "alphabetic", "fontSize": 17}, "encoding": {"x": {"datum": 0.101, "type": "quantitative", "axis": null}, "y": {"datum": 3.41, "type": "quantitative", "axis": null}}}
   ]},
   {"resolve": {"axis": {"x": "independent", "y": "independent"}}, "layer": [
    {"data": {"values": [{}]}, "mark": {"type": "rect", "fillOpacity": 0, "stroke": "black", "strokeWidth": 1.5},
     "encoding": {
      "x": {"datum": 0.5, "type": "quantitative", "scale": {"domain": [0.5, 1.5], "range": [189, 308], "nice": false, "zero": false}, "axis": null},
      "x2": {"datum": 1.5},
      "y": {"datum": 0, "type": "quantitative", "scale": {"domain": [0, 0.345], "range": [79, 14], "nice": false, "zero": false}, "axis": null},
      "y2": {"datum": 0.345}}},
    {"data": {"name": "ins"}, "mark": {"type": "line", "color": "black", "strokeWidth": 1.6},
     "encoding": {
      "x": {"field": "w", "type": "quantitative", "scale": {"domain": [0.5, 1.5], "range": [189, 308], "nice": false, "zero": false}, "axis": {"orient": "bottom", "offset": -31, "zindex": 2, "values": [0.5,0.75,1,1.25,1.5], "format": "~g", "labelExpr": "indexof([0.5,1,1.5], datum.value) >= 0 ? datum.label : ''", "tickSize": -7, "labelPadding": 15, "labelFontSize": 13, "domain": false, "title": null}},
      "y": {"field": "a", "type": "quantitative", "scale": {"domain": [0, 0.345], "range": [79, 14], "nice": false, "zero": false}, "axis": {"orient": "left", "offset": -189, "zindex": 2, "values": [0,0.05,0.1,0.15,0.2,0.25,0.3], "format": "~g", "labelExpr": "indexof([0,0.1,0.2,0.3], datum.value) >= 0 ? datum.label : ''", "labelPadding": 25, "labelFontSize": 13, "tickSize": {"condition": {"test": "indexof([0,0.1,0.2,0.3], datum.value) >= 0", "value": -15}, "value": -7}, "domain": false, "title": null}}}}
   ]}
  ]}
 ]}
]
}
